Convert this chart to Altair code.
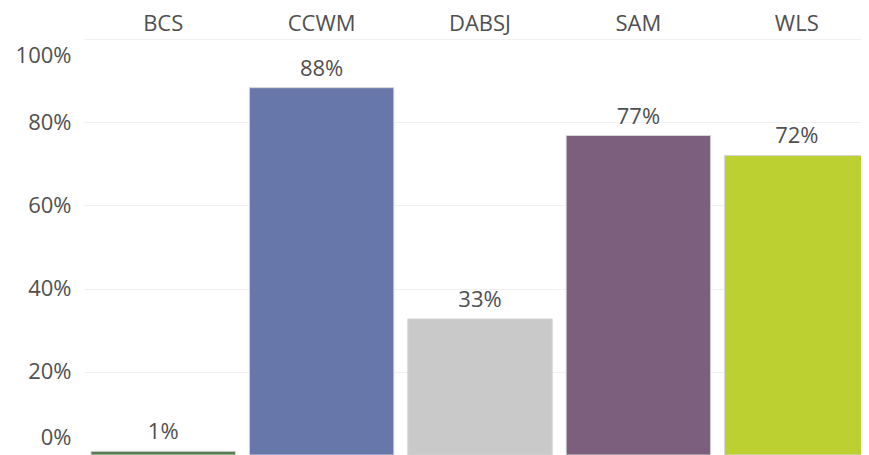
import altair as alt
import pandas as pd

categories = ["BCS", "CCWM", "DABSJ", "SAM", "WLS"]
shares = [0.009, 0.883, 0.327, 0.768, 0.720]
colors = ["#587b55", "#6777a9", "#c9c9c9", "#7b5f7d", "#bcd032"]
tick_values = [0, 0.2, 0.4, 0.6, 0.8, 1.0]

df = pd.DataFrame({"cat": categories, "share": shares, "color": colors})

FONT = "Open Sans"
TXT = "#505050"

x = alt.X(
    "cat:N",
    sort=categories,
    title=None,
    scale=alt.Scale(range=[0, 792], paddingInner=0.088, paddingOuter=0.044),
    axis=alt.Axis(
        orient="top", labelAngle=0, domain=False, ticks=False,
        labelPadding=9, labelBaseline="alphabetic",
        labelFontSize=22, labelColor=TXT, labelFont=FONT,
    ),
)
y = alt.Y(
    "share:Q",
    title=None,
    scale=alt.Scale(domain=[0, 1], nice=False),
    axis=alt.Axis(
        values=tick_values, format=".0%", domain=False, ticks=False,
        labelPadding=13, labelFlush=True, labelFlushOffset=-6,
        labelFontSize=22, labelColor=TXT, labelFont=FONT,
        gridColor="#f0f0f0", gridWidth=1,
    ),
)

bars = alt.Chart(df).mark_bar(stroke="#d6d6d6", strokeWidth=1).encode(
    x=x, y=y, color=alt.Color("color:N", scale=None)
)
labels = alt.Chart(df).mark_text(
    baseline="alphabetic", dy=-12, fontSize=22, font=FONT, color=TXT
).encode(
    x=x, y=y, text=alt.Text("share:Q", format=".0%")
)

chart = (
    alt.layer(bars, labels)
    .properties(
        width=777, height=416,
        autosize=alt.AutoSizeParams(type="none"),
        padding={"left": 76, "top": 31, "right": 0, "bottom": 0},
        background="white",
    )
    .configure_view(stroke=None)
)

chart.save("out.html", embed_options={"renderer": "svg", "actions": False})
